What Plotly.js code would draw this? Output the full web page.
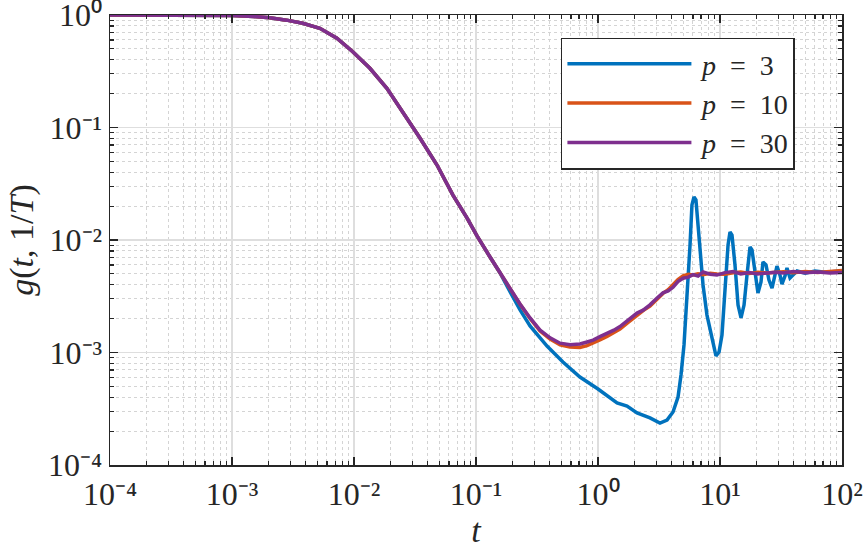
<!DOCTYPE html>
<html>
<head>
<meta charset="utf-8">
<script src="https://cdn.plot.ly/plotly-3.0.1.min.js"></script>
<style>
html,body{margin:0;padding:0;background:#fff;}
#chart text, #chart tspan { font-family: 'Liberation Serif', 'Times New Roman', serif !important; }
#fontwarm { font-family: 'Liberation Serif', serif; position: absolute; left: -9999px; top: 0; font-size: 20px; }
</style>
</head>
<body>
<div id="fontwarm">.</div>
<div id="chart" style="width:865px;height:550px;"></div>
<script>
// shared early part of all three curves
var tEarly = [0.0001, 0.0002, 0.0004, 0.0007, 0.001, 0.0015, 0.00204, 0.0028, 0.0038, 0.00525, 0.00724, 0.00977, 0.0135, 0.0186, 0.0251, 0.0347, 0.0479, 0.0575, 0.0647, 0.0843, 0.1019, 0.1303, 0.1574];
var gEarly = [1.0, 1.0, 0.999, 0.995, 0.988, 0.97, 0.945, 0.9, 0.845, 0.762, 0.621, 0.472, 0.336, 0.223, 0.138, 0.0806, 0.0464, 0.0315, 0.0251, 0.0157, 0.01087, 0.00706, 0.00509];

// p = 3
var tP3 = [0.190, 0.2296, 0.2773, 0.382, 0.516, 0.711, 1.0, 1.432, 1.73, 2.089, 2.667, 3.221, 3.68, 4.12, 4.53, 4.79, 5.07, 5.37, 5.68, 5.89, 6.12, 6.35, 6.72, 7.26, 7.82, 8.59, 9.27, 9.82, 10.38, 10.99, 11.64, 12.08, 12.54, 13.27, 14.06, 14.87, 15.74, 16.65, 17.62, 18.29, 19.36, 20.48, 21.68, 22.5, 23.82, 25.2, 26.7, 28.2, 29.3, 31.0, 32.2, 34.1, 35.4, 37.5, 39.6, 42.8, 49.8, 60.1, 72.6, 100];
var gP3 = [0.00348, 0.00239, 0.00172, 0.00114, 0.000824, 0.000605, 0.000474, 0.000356, 0.000334, 0.00029, 0.000262, 0.000236, 0.000251, 0.000296, 0.000402, 0.000631, 0.001167, 0.00293, 0.00903, 0.0205, 0.0241, 0.0227, 0.01, 0.00398, 0.00215, 0.00129, 0.000931, 0.00101, 0.00143, 0.0036, 0.00903, 0.01178, 0.01107, 0.006, 0.00264, 0.00203, 0.00264, 0.00489, 0.00867, 0.00815, 0.00489, 0.00338, 0.00424, 0.00637, 0.006, 0.00441, 0.00374, 0.00489, 0.00587, 0.00489, 0.00406, 0.00479, 0.00564, 0.00459, 0.00489, 0.0053, 0.00507, 0.0053, 0.00518, 0.0053];

// p = 10
var tP10 = [0.190, 0.2296, 0.2773, 0.335, 0.4046, 0.4887, 0.589, 0.711, 0.813, 0.912, 1.047, 1.186, 1.349, 1.514, 1.778, 2.089, 2.344, 2.667, 3.02, 3.41, 3.76, 4.12, 4.52, 4.98, 5.5, 6.01, 6.61, 7.26, 8.32, 9.44, 10.96, 12.8, 14.8, 17.4, 20.4, 24.0, 28.2, 33.1, 39.8, 50.1, 63.1, 79.4, 100];
var gP10 = [0.00366, 0.00268, 0.00201, 0.00155, 0.00132, 0.00117, 0.00112, 0.00111, 0.00115, 0.00121, 0.0013, 0.00139, 0.0015, 0.00162, 0.00186, 0.00214, 0.00236, 0.00258, 0.00297, 0.00335, 0.00362, 0.00405, 0.00445, 0.0048, 0.00496, 0.00488, 0.005, 0.00492, 0.00506, 0.00499, 0.00495, 0.00512, 0.0052, 0.00505, 0.00518, 0.00508, 0.00515, 0.00522, 0.00511, 0.00526, 0.00514, 0.00527, 0.00535];

// p = 30
var tP30 = [0.190, 0.2296, 0.2773, 0.335, 0.4046, 0.4887, 0.589, 0.711, 0.813, 0.912, 1.047, 1.186, 1.349, 1.514, 1.778, 2.089, 2.344, 2.667, 3.02, 3.41, 3.76, 4.12, 4.52, 4.98, 5.5, 6.01, 6.61, 7.26, 8.32, 9.44, 10.96, 12.8, 14.8, 17.4, 20.4, 24.0, 28.2, 33.1, 39.8, 50.1, 63.1, 79.4, 100];
var gP30 = [0.00367, 0.0027, 0.00203, 0.00158, 0.00135, 0.00121, 0.00117, 0.00119, 0.00124, 0.00129, 0.00139, 0.00147, 0.00158, 0.0017, 0.00195, 0.00224, 0.00238, 0.00265, 0.00302, 0.00339, 0.00352, 0.0038, 0.00427, 0.00457, 0.00468, 0.00492, 0.00478, 0.00519, 0.00497, 0.00488, 0.00513, 0.00525, 0.00499, 0.00515, 0.00498, 0.00512, 0.00518, 0.00508, 0.00524, 0.00512, 0.00519, 0.00509, 0.00513];

var seriesNames = ['\u2009<i>p</i>\u2002=\u20023', '\u2009<i>p</i>\u2002=\u200210', '\u2009<i>p</i>\u2002=\u200230'];
var seriesColors = ['#0072BD', '#D95319', '#7E2F8E'];

var xTickVals = [1e-4, 1e-3, 1e-2, 1e-1, 1, 10, 100];
var xTickText = ['10\u207B\u2074', '10\u207B\u00B3', '10\u207B\u00B2', '10\u207B\u00B9', '10\u2070', '10\u00B9', '10\u00B2'];
var yTickVals = [1e-4, 1e-3, 1e-2, 1e-1, 1];
var yTickText = ['10\u207B\u2074', '10\u207B\u00B3', '10\u207B\u00B2', '10\u207B\u00B9', '10\u2070'];

function minorVals(lo, hi) {
  var v = [];
  for (var e = lo; e < hi; e++) for (var m = 2; m <= 9; m++) v.push(m * Math.pow(10, e));
  return v;
}

var traces = [
  {x: tEarly.concat(tP3), y: gEarly.concat(gP3)},
  {x: tEarly.concat(tP10), y: gEarly.concat(gP10)},
  {x: tEarly.concat(tP30), y: gEarly.concat(gP30)}
].map(function (d, i) {
  return {x: d.x, y: d.y, type: 'scatter', mode: 'lines', name: seriesNames[i],
          line: {color: seriesColors[i], width: 3.5}};
});

function axis(range, tv, tt, lo, hi) {
  return {
    type: 'log', range: range, tickmode: 'array', tickvals: tv, ticktext: tt,
    ticks: 'inside', ticklen: 8, tickwidth: 1.5, tickcolor: '#262626',
    showline: true, linecolor: '#262626', linewidth: 1.5, mirror: 'ticks',
    showgrid: true, gridcolor: '#dedede', gridwidth: 1.5, zeroline: false,
    ticklabeloverflow: 'allow',
    tickfont: {size: 32},
    minor: {tickmode: 'array', tickvals: minorVals(lo, hi), ticks: 'inside', ticklen: 4,
            tickcolor: '#262626', tickwidth: 1.2, showgrid: true, gridcolor: '#d4d4d4',
            griddash: 'dot', gridwidth: 1}
  };
}

var xa = axis([-4, 2], xTickVals, xTickText, -4, 2);
xa.title = {text: '<i>t</i>', font: {size: 34}, standoff: 4};
var ya = axis([-4, 0], yTickVals, yTickText, -4, 0);
ya.title = {text: '<i>g</i>(<i>t</i>, 1/<i>T</i>)', font: {size: 34}, standoff: 4};

var layout = {
  width: 865, height: 550,
  margin: {l: 110, r: 23, t: 15, b: 85},
  paper_bgcolor: '#fff', plot_bgcolor: '#fff',
  font: {family: 'Liberation Serif, serif', size: 24, color: '#262626'},
  xaxis: xa, yaxis: ya,
  showlegend: true,
  legend: {x: 0.616, y: 0.95, xanchor: 'left', yanchor: 'top',
           bgcolor: '#fff', bordercolor: '#262626', borderwidth: 1.5,
           font: {size: 28},
           itemwidth: 124, tracegroupgap: 0}
};

Plotly.newPlot('chart', traces, layout, {staticPlot: true});
</script>
</body>
</html>
